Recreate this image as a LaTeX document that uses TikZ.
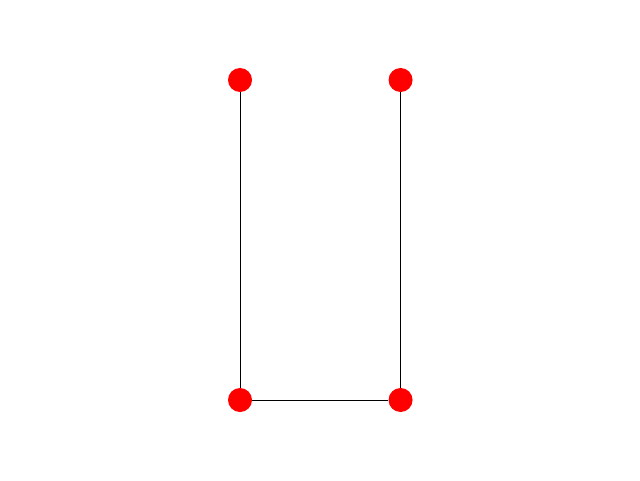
\documentclass[tikz,border=0pt]{standalone}
\usepackage{tikz}
\usetikzlibrary{positioning}

\begin{document}
\begin{tikzpicture}[
  v/.style={circle, fill=red, inner sep=0pt, minimum size=0.6cm},
  e/.style={draw=black, line width=0.7pt}
]
\useasboundingbox (0,0) rectangle (16,12);
\node[v] (a) at (6,10) {};
\node[v, right=3.4cm of a] (b) {};
\node[v] (c) at (6,2) {};
\node[v, right=3.4cm of c] (d) {};
\draw[e] (a)--(c)--(d)--(b);
\end{tikzpicture}
\end{document}
